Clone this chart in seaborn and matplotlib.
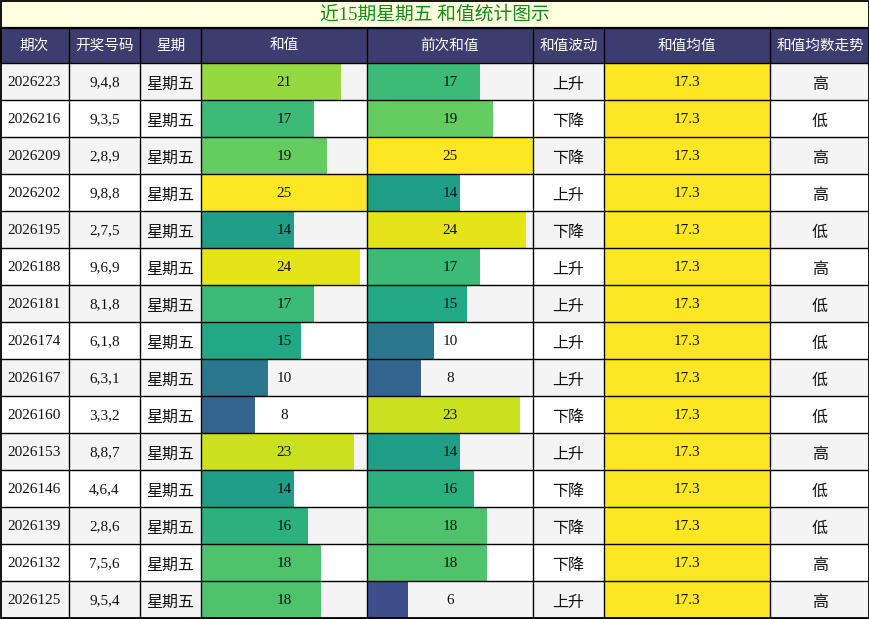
import matplotlib
matplotlib.use("Agg")
import matplotlib.pyplot as plt
import seaborn as sns
import numpy as np
import pandas as pd
from matplotlib.patches import Rectangle
from matplotlib.colors import Normalize

sns.set_theme(style="white")
plt.rcParams['font.family'] = ['Liberation Serif', 'Noto Sans CJK SC', 'DejaVu Sans']

title = "近15期星期五 和值统计图示"
headers = ["期次", "开奖号码", "星期", "和值", "前次和值", "和值波动", "和值均值", "和值均数走势"]
periods = ["2026223", "2026216", "2026209", "2026202", "2026195", "2026188", "2026181",
           "2026174", "2026167", "2026160", "2026153", "2026146", "2026139", "2026132", "2026125"]
numbers = ["9,4,8", "9,3,5", "2,8,9", "9,8,8", "2,7,5", "9,6,9", "8,1,8", "6,1,8",
           "6,3,1", "3,3,2", "8,8,7", "4,6,4", "2,8,6", "7,5,6", "9,5,4"]
weekday = ["星期五"] * 15
sums = [21, 17, 19, 25, 14, 24, 17, 15, 10, 8, 23, 14, 16, 18, 18]
prev_sums = [17, 19, 25, 14, 24, 17, 15, 10, 8, 23, 14, 16, 18, 18, 6]
trend = ["上升", "下降", "下降", "上升", "下降", "上升", "上升", "上升", "上升", "下降",
         "上升", "下降", "下降", "下降", "上升"]
mean_val = ["17.3"] * 15
mean_trend = ["高", "低", "高", "高", "低", "高", "低", "低", "低", "低", "高", "低", "低", "高", "高"]

W, H = 870, 619
col_x = [0, 69, 140, 201, 367, 533, 604, 770, 870]
title_h = 28
head_b = 63
row_h = 37
n = len(periods)
bar_max = 25

fig = plt.figure(figsize=(W / 100, H / 100), dpi=100)

def px_axes(x0, y0, x1, y1, zorder):
    ax = fig.add_axes([x0 / W, 1 - y1 / H, (x1 - x0) / W, (y1 - y0) / H], zorder=zorder)
    ax.set_axis_off()
    return ax

# background axes
bg = px_axes(0, 0, W, H, 0)
bg.set_xlim(0, W); bg.set_ylim(H, 0)
bg.add_patch(Rectangle((0, 0), W, title_h, facecolor="#ffffe0", edgecolor="none"))
bg.add_patch(Rectangle((0, title_h), W, head_b - title_h, facecolor="#3c3c6e", edgecolor="none"))
for i in range(n):
    y = head_b + i * row_h
    bg.add_patch(Rectangle((0, y), W, row_h, facecolor="#f4f4f4" if i % 2 == 0 else "#ffffff",
                           edgecolor="none"))
    bg.add_patch(Rectangle((col_x[6], y), col_x[7] - col_x[6], row_h, facecolor="#fde725",
                           edgecolor="none"))

norm = Normalize(0, bar_max)
cmap = matplotlib.colormaps["viridis"]

def bar_col(vals, c0, c1):
    ax = px_axes(c0 + 1, head_b, c1, head_b + n * row_h, 1)
    df = pd.DataFrame({"row": [str(i) for i in range(n)], "val": vals})
    pal = {str(i): cmap(norm(v)) for i, v in enumerate(vals)}
    sns.barplot(data=df, x="val", y="row", hue="row", palette=pal, orient="h",
                width=1.0, legend=False, ax=ax, saturation=1, linewidth=0)
    ax.set_xlim(0, bar_max)
    ax.set_ylim(n - 0.5, -0.5)
    ax.set_axis_off()
    ax.patch.set_alpha(0)
    return ax

bar_col(sums, col_x[3], col_x[4])
bar_col(prev_sums, col_x[4], col_x[5])

# top overlay: lines and text
top = px_axes(0, 0, W, H, 2)
top.set_xlim(0, W); top.set_ylim(H, 0)
top.patch.set_alpha(0)
lw = 1.0
top.plot([0, W], [title_h, title_h], color="black", lw=1.6)
for i in range(n + 1):
    y = head_b + i * row_h
    top.plot([0, W], [y, y], color="black", lw=lw)
for x in col_x[1:-1]:
    top.plot([x, x], [title_h, H], color="black", lw=lw)
top.add_patch(Rectangle((0.75, 0.75), W - 1.5, H - 1.5, fill=False, edgecolor="black", lw=1.3))

top.text(W / 2, title_h / 2 + 1, title, ha="center", va="center", color="#138a13", fontsize=13.5)
for j, h in enumerate(headers):
    top.text((col_x[j] + col_x[j + 1]) / 2, (title_h + head_b) / 2, h, ha="center",
             va="center", color="white", fontsize=10.5, family=['Noto Sans CJK SC'])

cols = [periods, numbers, weekday, [str(v) for v in sums], [str(v) for v in prev_sums],
        trend, mean_val, mean_trend]
cjk_cols = {2, 5, 7}
for j, col in enumerate(cols):
    cx = (col_x[j] + col_x[j + 1]) / 2
    for i, t in enumerate(col):
        cy = head_b + i * row_h + row_h / 2 + (3.5 if j in cjk_cols else 1.2)
        top.text(cx, cy, t, ha="center", va="center", color="#111111",
                 fontsize=11.5 if j in cjk_cols else 11)

fig.savefig("out.png", dpi=100)
